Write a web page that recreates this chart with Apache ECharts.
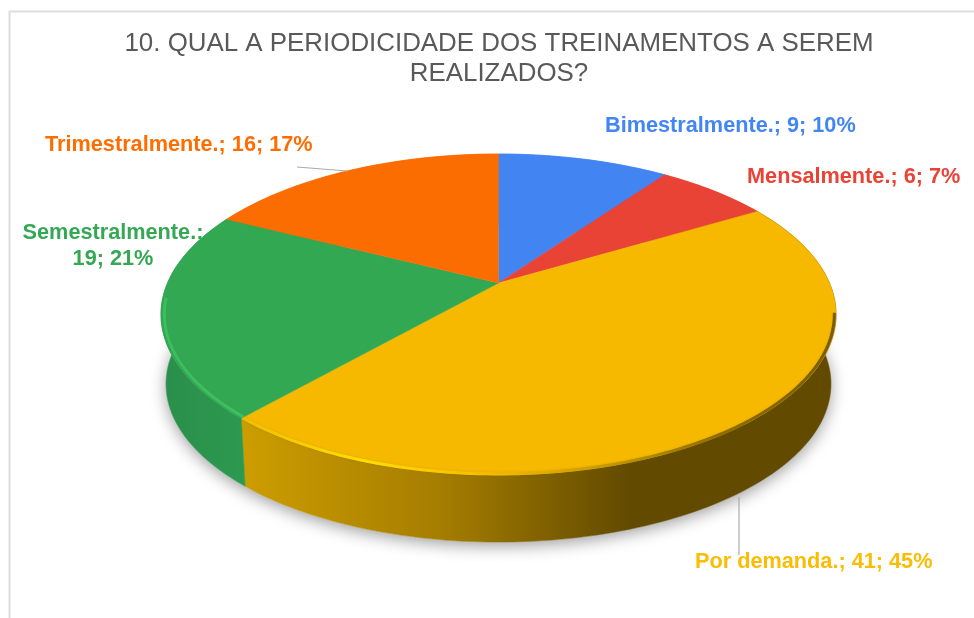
<!DOCTYPE html>
<html><head><meta charset="utf-8">
<style>html,body{margin:0;padding:0;background:#fff}#c{width:974px;height:618px}</style>
<script src="https://cdn.jsdelivr.net/npm/echarts@6/dist/echarts.min.js"></script>
</head><body><div id="c"></div>
<script>
const categories = ['Bimestralmente.','Mensalmente.','Por demanda.','Semestralmente.','Trimestralmente.'];
const counts = [9,6,41,19,16];
const percents = [10,7,45,21,17];
const titleLines = ['10. QUAL A PERIODICIDADE DOS TREINAMENTOS A SEREM','REALIZADOS?'];
const sliceColors = ['#4285F2','#E84335','#F7B900','#33A853','#FB6D00'];
const labelColors = ['#4285F4','#EA4335','#FBBC04','#34A853','#FF6D01'];
const sideStops = [null,null,[[0,'#CC9C00'],[0.5,'#A67E00'],[1,'#624A00']],[[0,'#2A8F4B'],[1,'#2C9A50']],null];
const rimStops = [null,null,[[0,'#F0C000'],[0.2,'#FFDD00'],[0.42,'#F5BA00'],[0.6,'#C89C00'],[0.8,'#8F6E00'],[1,'#7A5C00']],[[0,'#36C060'],[1,'#38C262']],null];
// label anchor: [x, y, align], separate from the data
const labelPlace = [[605,126,'left'],[747,177,'left'],[695,562,'left'],[113,246,'center'],[45,145,'left']];
const leaders = [null,null,[[739,497],[739,555]],null,[[297,167],[347,171]]];

const total = counts.reduce((a,b)=>a+b,0);
const startAngles = []; { let s=0; counts.forEach(v=>{startAngles.push(s); s+=v/total*Math.PI*2;}); }
const CX=498.5, CY=283, RX=331, SY=154.3, PERSP=0.196, DEPTH=70, BASE=0.985;
function rim(t,k,dy){ const d=1+PERSP*Math.cos(t);
  return [CX+k*RX*Math.sin(t)/d, CY+dy-k*SY*Math.cos(t)/d]; }
function arc(a,b,k,dy){ const n=Math.max(4,Math.ceil(Math.abs(b-a)/0.02)), p=[];
  for(let i=0;i<=n;i++) p.push(rim(a+(b-a)*i/n,k,dy)); return p; }
function span(i){ return [startAngles[i], startAngles[i]+counts[i]/total*Math.PI*2]; }
function hGrad(stops,x,x2){ return {type:'linear',x:x,y:0,x2:x2,y2:0,global:true,
  colorStops:stops.map(s=>({offset:s[0],color:s[1]}))}; }
function sideRange(i){ return i===3?[165,250]:[245,630]; }

const sideSeries = {type:'custom',coordinateSystem:'none',silent:true,z:2,data:counts,clip:false,
  renderItem(params){ const i=params.dataIndex,[a,b]=span(i);
    const pts=arc(a,b,1,0).concat(arc(b,a,BASE,DEPTH));
    const r=sideRange(i);
    const fill=sideStops[i]?hGrad(sideStops[i],r[0],r[1]):sliceColors[i];
    return {type:'polygon',shape:{points:pts},style:{fill:fill,stroke:fill,lineWidth:0.5}};
  }};
const shadowSeries = {type:'custom',coordinateSystem:'none',silent:true,z:1,data:[total],clip:false,
  renderItem(){ return {type:'polygon',shape:{points:arc(0,Math.PI*2,BASE,DEPTH)},
    style:{fill:'#fff',shadowBlur:16,shadowColor:'rgba(0,0,0,0.38)',shadowOffsetX:0,shadowOffsetY:4}}; }};
const topSeries = {type:'custom',coordinateSystem:'none',silent:true,z:3,data:counts,clip:false,
  renderItem(params){ const i=params.dataIndex,[a,b]=span(i);
    const pts=[[CX,CY]].concat(arc(a,b,1,0));
    return {type:'polygon',shape:{points:pts},style:{fill:sliceColors[i],stroke:sliceColors[i],lineWidth:0.5}};
  }};
const rimSeries = {type:'custom',coordinateSystem:'none',silent:true,z:4,data:counts,clip:false,
  renderItem(params){ const i=params.dataIndex; if(!rimStops[i]) return null;
    const [a,b]=span(i); const r=i===3?[165,250]:[245,835];
    // keep the bevel on the front of the disc only
    const a2=Math.max(a,Math.PI*0.56), b2=Math.min(b,Math.PI*1.47);
    return {type:'polyline',shape:{points:arc(a2,b2,i===3?0.99:0.995,0)},
      style:{fill:'none',stroke:hGrad(rimStops[i],r[0],r[1]),lineWidth:3,lineCap:'butt',shadowBlur:3,shadowColor:'rgba(120,90,0,0.2)'}};
  }};
const leaderSeries = {type:'custom',coordinateSystem:'none',silent:true,z:5,data:counts,clip:false,
  renderItem(params){ const l=leaders[params.dataIndex]; if(!l) return null;
    return {type:'polyline',shape:{points:l},style:{fill:'none',stroke:'#ABABAB',lineWidth:1.2}};
  }};
const labelSeries = {type:'custom',coordinateSystem:'none',silent:true,z:6,data:counts,clip:false,
  renderItem(params){ const i=params.dataIndex,p=labelPlace[i];
    const line=categories[i]+'; '+counts[i]+'; '+percents[i]+'%';
    const txt=i===3?categories[i]+':\n'+counts[i]+'; '+percents[i]+'%':line;
    return {type:'text',style:{x:p[0],y:p[1],text:txt,align:p[2],verticalAlign:'middle',
      font:'bold 21.7px "Liberation Sans", Arial, sans-serif',fill:labelColors[i],lineHeight:26}};
  }};
const chart=echarts.init(document.getElementById('c'),null,{renderer:'canvas'});
chart.setOption({
  animation:false,backgroundColor:'#fff',
  title:{text:titleLines.join('\n'),left:494,top:23.5,textAlign:'center',
    textStyle:{fontFamily:'"Liberation Sans", Arial, sans-serif',fontWeight:'normal',fontSize:25.9,lineHeight:30.5,color:'#595959'}},
  graphic:[{type:'polyline',shape:{points:[[9.5,618],[9.5,11.5],[974,11.5]]},silent:true,
    style:{fill:'none',stroke:'#DEDEDE',lineWidth:2}}],
  series:[shadowSeries,sideSeries,topSeries,rimSeries,leaderSeries,labelSeries]
});
</script></body></html>
